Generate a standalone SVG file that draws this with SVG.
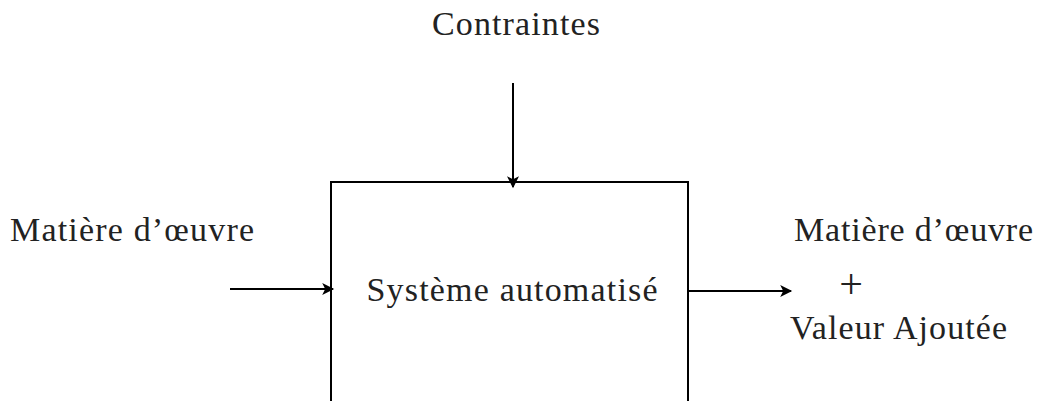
<svg xmlns="http://www.w3.org/2000/svg" width="1037" height="401" viewBox="0 0 1037 401">
<style>
text{font-family:"Liberation Serif","DejaVu Serif",serif;font-size:34px;fill:#222}
.ln{stroke:#000;stroke-width:2;fill:none}
</style>
<defs>
<marker id="ah" viewBox="0 0 10 10" refX="9" refY="5" markerWidth="15" markerHeight="12" markerUnits="userSpaceOnUse" orient="auto">
<path d="M0,0 L10,5 L0,10 L2.5,5 z" fill="#000"/>
</marker>
</defs>
<rect width="1037" height="401" fill="#fff"/>
<g id="systeme">
<rect class="ln" x="331" y="182" width="357" height="240"/>
<text x="512" y="301" text-anchor="middle" textLength="291">Système automatisé</text>
</g>
<g id="contraintes"><text x="516" y="35" text-anchor="middle" textLength="168">Contraintes</text></g>
<g id="entree"><text x="10" y="241" textLength="244">Matière d’œuvre</text></g>
<g id="sortie">
<text x="794" y="241" textLength="239">Matière d’œuvre</text>
<text x="851" y="298" text-anchor="middle" style="font-size:42px">+</text>
<text x="790" y="339" textLength="217">Valeur Ajoutée</text>
</g>
<g id="connecteurs">
<line class="ln" x1="513" y1="83" x2="513" y2="187" marker-end="url(#ah)"/>
<line class="ln" x1="230" y1="289" x2="333" y2="289" marker-end="url(#ah)"/>
<line class="ln" x1="688" y1="291" x2="791" y2="291" marker-end="url(#ah)"/>
</g>
</svg>
